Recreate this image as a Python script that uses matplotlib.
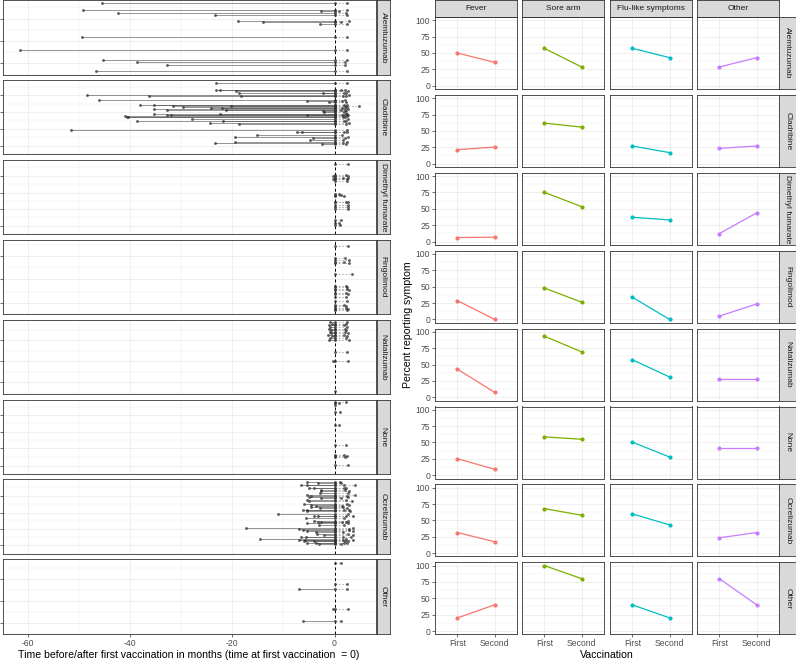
import numpy as np
import matplotlib.pyplot as plt

plt.rcParams['font.family'] = ['Liberation Sans', 'DejaVu Sans']
plt.rcParams['axes.unicode_minus'] = False

# ---------------- data ----------------
drugs = ["Alemtuzumab", "Cladribine", "Dimethyl fumarate", "Fingolimod",
         "Natalizumab", "None", "Ocrelizumab", "Other"]
symptoms = ["Fever", "Sore arm", "Flu-like symptoms", "Other"]
vaccinations = ["First", "Second"]

# percent reporting symptom (first, second) per drug
fever = [(50, 35.7), (21.3, 25.4), (6.1, 6.6), (28.8, 0), (43.1, 7.6), (25.3, 9.1), (31.5, 17.3), (20, 40)]
sore_arm = [(57.1, 28.6), (61.9, 55.8), (75.1, 53.3), (48, 26.3), (93.4, 69.5), (58.6, 55), (68, 57.9), (100, 80)]
flu_like = [(57.1, 42.9), (26.9, 16.8), (37.1, 33), (33.8, 0), (57.4, 31), (50.5, 27.8), (59.9, 43.1), (40, 20)]
other_sym = [(28.6, 42.9), (23.4, 26.9), (12.2, 43.7), (5, 23.7), (28.4, 28.4), (41.9, 41.9), (23.4, 31.5), (80, 40)]

# patient rows: (row position, last treatment time, second vaccination time) in months
alemtuzumab_rows = [(3.3, -45.5, 2.5), (10, -49.1, 2.5), (11.5, -2.7, 0.9), (13.5, -42.4, 2.3),
                    (15, -23.3, 2.5), (21.5, -18.8, 2.9), (22.8, -14.0, 1.2), (24.3, -2.9, 2.5),
                    (37.3, -49.3, 2.5), (51, -61.5, 2.5), (61, -45.2, 2.5), (62.5, -38.6, 2.0),
                    (65.7, -32.7, 2.0), (71.7, -46.6, 2.5)]
cladribine_rows = [(3.3, -23.1, 2.4), (10.8, -23.1, 1.2), (11.5, -22.3, 2.0), (12.7, -19.2, 2.6),
                   (14.2, -18.7, 1.8), (15, -2.2, 2.2), (16.7, -48.3, 2.8), (17.5, -36.3, 2.3),
                   (18.2, -18.2, 1.6), (22.7, -46, 2.0), (23.5, -5.4, 1.5), (25.3, -1.0, 2.2),
                   (27.7, -38, 2.5), (28.3, -35.2, 1.8), (28.8, -31.6, 2.0), (29.3, -20.3, 4.8),
                   (30.7, -29.6, 2.4), (31.3, -24.1, 1.5), (31.8, -22, 2.0), (32.7, -35.2, 2.6),
                   (33.2, -32.7, 1.2), (33.8, -21.3, 2.0), (34.3, -2.3, 2.3), (35.5, -2.0, 1.8),
                   (37.7, -22.3, 2.5), (38.7, -35.2, 2.2), (39.2, -32.7, 1.5), (39.6, -32.0, 2.6),
                   (39.0, -5.3, 1.9), (40.7, -41, 2.4), (41.3, -40.5, 2.0), (42, -40.3, 1.6),
                   (43.7, -27.8, 2.6), (46, -38.6, 1.8), (46.6, -21.8, 2.2), (48.3, -24.3, 2.8),
                   (48.9, -18.6, 2.3), (56.7, -51.5, 2.5), (58.2, -7.3, 1.8), (58.9, -6.3, 2.4),
                   (61.3, -15.2, 1.5), (64.3, -19.5, 2.6), (65, -4.3, 2.0), (67.3, -4.8, 1.7),
                   (70, -19.4, 2.5), (71, -23.4, 1.6), (71.6, -2.5, 2.2)]
dimethyl_rows = [(5, 0, 2.7), (16.7, 0, 2.2), (17.5, -0.3, 2.7), (20, 0, 1.7), (20.8, 0, 2.6),
                 (21.7, -0.4, 2.4), (24, 0, 2.5), (38.3, 0, 0.9), (39.2, 0, 1.3), (40.7, 0, 1.9),
                 (46.7, 0, 2.2), (47.5, 0, 2.6), (50, 0, 2.7), (52.7, 0, 2.7), (55, 0, 2.7),
                 (66.7, 0, 1.2), (70.7, 0, 0.8), (72.7, 0, 1.1)]
fingolimod_rows = [(6, 0, 2.7), (19.3, 0, 2.1), (20.5, 0, 2.8), (23.3, 0, 1.9), (24, 0, 2.8),
                   (35, 0, 3.5), (47.3, 0, 2.2), (48.3, 0, 2.5), (50.7, 0, 2.4), (51.5, 0, 2.8),
                   (55, 0, 2.2), (56, 0, 2.6), (59.3, 0, 2.2), (62.7, 0, 2.5), (66.7, 0, 1.9),
                   (68, 0, 2.3), (70, 0, 2.2), (71.3, 0, 2.7), (72.7, 0, 2.5)]
natalizumab_rows = [(2.3, -0.8, 2.5), (4.5, -0.5, 2.2), (5.7, -1.0, 1.9), (7.5, -0.9, 2.4),
                    (9, -1.0, 2.1), (10.5, -0.7, 2.3), (12.3, -0.9, 2.0), (13.5, -0.6, 2.6),
                    (15.7, -1.2, 1.9), (17, -0.5, 2.4), (18.5, -0.8, 2.2), (20.7, -1.0, 2.8),
                    (33, 0, 2.4), (41.3, -0.4, 2.7), (72.3, 0, np.nan)]
none_rows = [(3, 0, 2.2), (3.8, 0, 0.9), (5.7, 0, np.nan), (14, 0, 1.1), (27.3, 0, 0.9),
             (49, 0, 2.3), (60.7, 0, 1.8), (61.8, 0, 2.4), (63, 0, 2.0), (71.7, 0, 2.7)]
ocrelizumab_rows = [(3.3, -5.4, 1.1), (4.0, -3.3, 1.3), (6, -6.6, 1.9), (6.7, -5.4, 3.9),
                    (9.3, -5.0, 1.9), (10.0, -4.0, 2.3), (12, -2.7, 2.0), (12.7, -2.7, 2.9),
                    (15.3, -2.8, 2.6), (17.7, -5.3, 3.9), (18.5, -4.6, 2.4), (20, -5.0, 2.6),
                    (20.8, -2.7, 1.3), (23.3, -5.4, 2.2), (24, -5.0, 3.4), (27.7, -5.9, 2.4),
                    (28.5, -4.6, 2.8), (29.2, -3.7, 1.5), (31, -4.6, 1.6), (31.7, -2.8, 2.5),
                    (33.7, -6.1, 1.9), (34.3, -5.3, 2.9), (35.3, -5.4, 3.1), (38.3, -11.0, 2.6),
                    (40, -4.0, 3.6), (40.7, -3.3, 2.2), (42.7, -5.6, 1.8), (46, -4.0, 2.6),
                    (46.7, -3.3, 1.5), (47.3, -2.7, 2.2), (48.7, -5.4, 2.6), (51, -3.0, 1.9),
                    (54.3, -17.3, 3.6), (55, -6.9, 2.8), (56, -6.1, 2.9), (56.7, -5.3, 3.6),
                    (57.7, -3.7, 1.7), (61, -3.5, 2.6), (61.7, -2.0, 3.6), (63.3, -6.6, 3.2),
                    (64, -5.6, 1.6), (66, -14.6, 2.2), (66.7, -6.9, 3.6), (67.3, -5.8, 1.6),
                    (67.7, -5.9, 2.6), (68.5, -4.0, 2.0), (70, -5.4, 1.9), (70.7, -3.7, 2.4),
                    (72, -3.0, 1.3)]
other_rows = [(4.3, 0, 1.2), (28.3, 0, 2.5), (34.3, -6.9, 2.5), (56.7, -0.3, 2.6), (71, -6.1, 1.2)]

group_rows = [alemtuzumab_rows, cladribine_rows, dimethyl_rows, fingolimod_rows,
              natalizumab_rows, none_rows, ocrelizumab_rows, other_rows]
# y breaks of each free-scale panel (labels are blank in the original)
group_ticks = [[19, 42, 64], [17, 36, 55, 74], [18, 37, 55, 73.5], [17, 40, 65],
               [21, 42, 63], [17, 35, 53, 72], [18, 37, 55, 73], [23, 48, 73]]

colors = ["#F8766D", "#7CAE00", "#00BFC4", "#C77CFF"]

# ---------------- layout helpers ----------------
W, H = 796, 661
fig = plt.figure(figsize=(W / 100, H / 100), dpi=100)

def px_axes(x0, y0, x1, y1):
    return fig.add_axes([x0 / W, 1 - y1 / H, (x1 - x0) / W, (y1 - y0) / H])

def style_panel(ax):
    ax.set_facecolor('white')
    ax.set_axisbelow(True)
    for sp in ax.spines.values():
        sp.set_color('#333333')
        sp.set_linewidth(0.6)
    ax.tick_params(which='major', length=2, width=0.5, color='#333333',
                   labelsize=6.2, labelcolor='#4D4D4D', pad=1.5)
    ax.tick_params(which='minor', length=0)
    ax.grid(which='major', color='#EBEBEB', lw=0.55)
    ax.grid(which='minor', color='#EBEBEB', lw=0.3)

def strip(x0, y0, x1, y1, label, rot):
    ax = px_axes(x0, y0, x1, y1)
    ax.set_facecolor('#D9D9D9')
    ax.set_xticks([])
    ax.set_yticks([])
    for sp in ax.spines.values():
        sp.set_color('#333333')
        sp.set_linewidth(0.6)
    ax.text(0.5, 0.5, label, rotation=rot, ha='center', va='center',
            fontsize=6.0, color='#1A1A1A', transform=ax.transAxes)

# ---------------- left: timeline panels ----------------
for i, rows in enumerate(group_rows):
    top = 79.9 * i
    ax = px_axes(3, top, 376, top + 74.5)
    style_panel(ax)
    ys = np.array([r[0] for r in rows])
    starts = np.array([r[1] for r in rows])
    seconds = np.array([r[2] for r in rows])

    ax.axvline(0, color='black', lw=0.7, ls=(0, (3, 2.5)), zorder=1)
    ax.hlines(ys, starts, 0, color='#4D4D4D', lw=0.6, alpha=0.7, zorder=2)
    ok = ~np.isnan(seconds)
    ax.hlines(ys[ok], 0, seconds[ok], color='#A6A6A6', lw=0.6,
              linestyles=(0, (2, 2)), zorder=2)
    pts = dict(ls='none', marker='o', ms=2.1, color='#333333', alpha=0.75, mew=0, zorder=3)
    ax.plot(starts[starts < 0], ys[starts < 0], **pts)
    ax.plot(np.zeros(len(ys)), ys, **pts)
    ax.plot(seconds[ok], ys[ok], **pts)

    ax.set_xlim(-64.8, 8.1)
    ax.set_ylim(75, 0)
    ax.set_xticks([-60, -40, -20, 0])
    ax.set_xticks([-50, -30, -10], minor=True)
    ticks = group_ticks[i]
    step = ticks[1] - ticks[0]
    ax.set_yticks(ticks)
    ax.set_yticklabels([''] * len(ticks))
    ax.set_yticks([t - step / 2 for t in ticks] + [ticks[-1] + step / 2], minor=True)
    if i < len(group_rows) - 1:
        ax.tick_params(axis='x', which='both', length=0, labelbottom=False)
    else:
        ax.set_xticklabels(['-60', '-40', '-20', '0'])
    strip(376.5, top, 390, top + 74.5, drugs[i], 270)

fig.text(189 / W, 1 - 655 / H,
         "Time before/after first vaccination in months (time at first vaccination  = 0)",
         ha='center', va='center', fontsize=7.6, color='black')

# ---------------- right: symptom panels ----------------
sym_values = [fever, sore_arm, flu_like, other_sym]
col_x = [435, 522, 610, 697]
for i, drug in enumerate(drugs):
    top = 17 + 77.9 * i
    for j, sym in enumerate(symptoms):
        ax = px_axes(col_x[j], top, col_x[j] + 82, top + 72)
        style_panel(ax)
        first, second = sym_values[j][i]
        ax.plot([1, 2], [first, second], '-o', color=colors[j], lw=0.9, ms=3, mew=0)
        ax.set_xlim(0.4, 2.6)
        ax.set_ylim(-5, 105)
        ax.set_xticks([1, 2])
        ax.set_yticks([0, 25, 50, 75, 100])
        ax.set_yticks([12.5, 37.5, 62.5, 87.5], minor=True)
        if j > 0:
            ax.tick_params(axis='y', which='major', length=0, labelleft=False)
        if i < len(drugs) - 1:
            ax.tick_params(axis='x', which='major', length=0, labelbottom=False)
        else:
            ax.set_xticklabels(vaccinations)
        if i == 0:
            strip(col_x[j], 0, col_x[j] + 82, 16.5, sym, 0)
    strip(779, top, 796.5, top + 72, drug, 270)

fig.text(408 / W, 1 - 325 / H, "Percent reporting symptom", rotation=90,
         ha='center', va='center', fontsize=7.6, color='black')
fig.text(607 / W, 1 - 655 / H, "Vaccination", ha='center', va='center',
         fontsize=7.6, color='black')

fig.savefig("out.png", dpi=100, facecolor='white')
